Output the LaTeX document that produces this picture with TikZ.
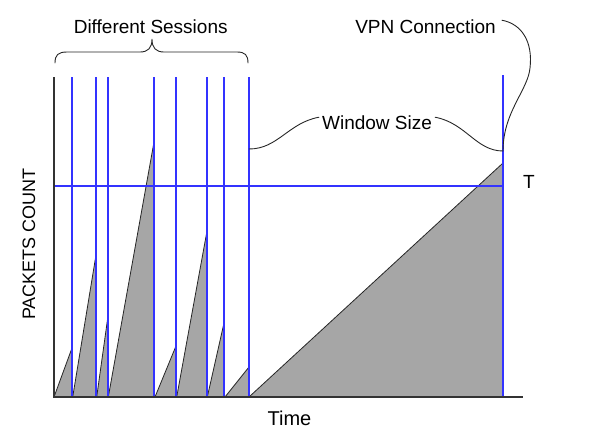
\documentclass[tikz,border=0pt]{standalone}
\usepackage{fontspec}
\setmainfont{Liberation Sans}
\begin{document}
\begin{tikzpicture}[x=1pt,y=-1pt,
  lbl/.style={font=\fontsize{19}{22}\selectfont, inner sep=0pt, anchor=base},
  sessline/.style={draw=blue!80, line width=1.1pt},
  ramp/.style={fill=black!35},
  slope/.style={draw=black!85, line width=0.8pt},
  axisline/.style={draw=black!80, line width=1.1pt},
  curly/.style={draw=black!85, line width=0.9pt, line cap=round}]
\useasboundingbox (0,0) rectangle (597,432);

% ramps of packet counts, one per session
\foreach \a/\b/\h in {54/72/348, 72.7/96/255, 96.7/108/316, 108.3/154/142,
                      155/176/346, 176.7/207/231, 207.3/224/323, 225/249/367,
                      249/503/163} {
  \fill[ramp] (\a,397) -- (\b,\h) -- (\b,397) -- cycle;
  \draw[slope] (\a,397) -- (\b,\h);
}

% session boundaries
\foreach \x in {72,96,108,154,176,207,224,249}
  \draw[sessline] (\x,77) -- (\x,397);
\draw[sessline] (503,75) -- (503,397);

% threshold
\draw[sessline] (54,186) -- (503,186);

% axes
\draw[axisline] (54,77) -- (54,397) -- (523,397);

% labels
\node[lbl] (ds)   at (150.7,33) {Different Sessions};
\node[lbl] (ws)   at (377,129)  {Window Size};
\node[lbl] (vpn)  at (425.5,33) {VPN Connection};
\node[lbl] (thr)  at (529,188)  {T};
\node[lbl, font=\fontsize{20}{24}\selectfont] (time) at (289.5,425) {Time};
\node[lbl, font=\fontsize{18}{22}\selectfont, rotate=90] (pc) at (35,244) {PACKETS COUNT};

% brace over the sessions
\coordinate (dsL) at (55,63);
\coordinate (dsR) at (248,63);
\coordinate (dsT) at (152,39);
\draw[curly] (dsL) .. controls (55,55) and (58,52) .. (67,52) -- (140,52)
  .. controls (148,52) and (152,48) .. (dsT)
  .. controls (152,48) and (156,52) .. (164,52) -- (237,52)
  .. controls (245,52) and (248,55) .. (dsR);

% window size brace
\coordinate (wsL) at (249,149);
\coordinate (wsR) at (503,151);
\draw[curly] (wsL) .. controls (278,149) and (288,123) .. ([xshift=-3pt,yshift=5pt]ws.west);
\draw[curly] ([xshift=3pt,yshift=5pt]ws.east) .. controls (466,123) and (476,151) .. (wsR);

% VPN connection pointer
\draw[curly] ([xshift=6pt,yshift=6pt]vpn.east) .. controls (522,24) and (533,42) .. (530,68)
  .. controls (528,90) and (503,112) .. (wsR);
\end{tikzpicture}
\end{document}
